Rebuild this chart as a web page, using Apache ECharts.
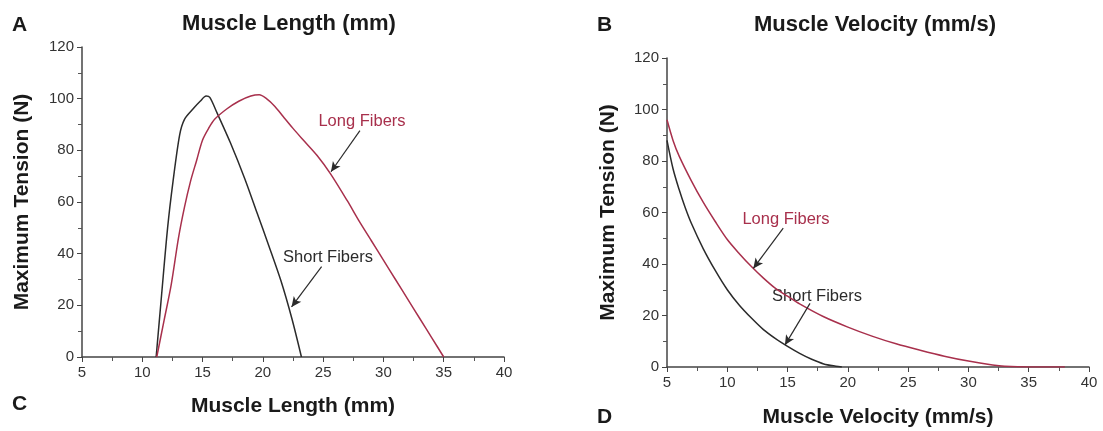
<!DOCTYPE html>
<html>
<head>
<meta charset="utf-8">
<script src="https://cdn.jsdelivr.net/npm/echarts@6/dist/echarts.min.js"></script>
<style>
	html, body { margin: 0; padding: 0; background: #fff; }
	#chart { width: 1103px; height: 431px; }
</style>
</head>
<body>
<div id="chart"></div>
<script>
// panel A/C : tension vs muscle length
let lenShortX = [11.15, 11.6, 12.1, 12.55, 13.1, 13.5, 14.2, 14.8, 15.3, 15.6, 16.2, 17.3, 18.5, 19.5, 20.5, 21.5, 22.4, 23.2];
let lenShortY = [0, 24, 50, 68, 86, 92, 96, 99, 101, 100.5, 94.5, 83, 69, 56, 43, 29.5, 15, 0];
let lenLongX = [11.2, 11.8, 12.4, 13, 13.5, 14, 14.5, 15, 15.5, 16, 17, 18, 19, 19.7, 20.3, 21, 21.7, 22.5, 23.35, 24.5, 25.6, 27, 28, 29, 30, 31, 32, 33, 34, 35];
let lenLongY = [0, 14, 28, 46, 58, 68, 76, 84, 88.5, 92, 96, 99, 101, 101.5, 100, 97, 93, 88.5, 84, 78, 71, 60.5, 52.5, 45, 37.5, 30, 22.5, 15, 7.5, 0];

// panel B/D : tension vs muscle velocity
let velShortX = [5, 5.5, 6, 6.5, 7, 8, 9, 10, 11, 12, 13, 14, 15, 16, 17, 18, 19, 19.5];
let velShortY = [88, 77, 69, 62, 56, 46, 37.5, 30, 24, 19, 14.5, 11, 8, 5.3, 3, 1.2, 0.3, 0];
let velLongX = [5, 5.5, 6, 7, 8, 9, 10, 11, 12, 13, 14, 15, 16, 18, 20, 22, 24, 26, 28, 30, 32, 33, 35, 38];
let velLongY = [96, 88, 82, 72.5, 64, 56.5, 49.5, 44, 39, 34.5, 30.5, 27.5, 24.5, 19.5, 15.5, 12, 9, 6.5, 4.2, 2.3, 0.8, 0.3, 0, 0];

let xTicks = [5, 40, 5];
let yTicks = [0, 120, 20];

let red = '#a8304c';
let dark = '#2b2b2b';
let font = "'Liberation Sans', Arial, sans-serif";

function pairs(xs, ys) {
	return xs.map((x, i) => [x, ys[i]]);
}

function makeX(idx, name, gap) {
	return {
		type: 'value', gridIndex: idx,
		min: xTicks[0], max: xTicks[1], interval: xTicks[2],
		name: name, nameLocation: 'middle', nameGap: gap,
		nameTextStyle: { fontFamily: font, fontWeight: 'bold', fontSize: 21, color: '#1a1a1a' },
		axisLine: { onZero: false, lineStyle: { color: '#444', width: 1.5 } },
		axisTick: { length: 5, lineStyle: { color: '#444' } },
		minorTick: { show: true, splitNumber: 2, length: 4, lineStyle: { color: '#555' } },
		axisLabel: { fontFamily: font, fontSize: 15, color: '#333', margin: 8 },
		splitLine: { show: false }
	};
}

function makeY(idx, gap) {
	return {
		type: 'value', gridIndex: idx,
		min: yTicks[0], max: yTicks[1], interval: yTicks[2],
		name: 'Maximum Tension (N)', nameLocation: 'middle', nameGap: gap, nameRotate: 90,
		nameTextStyle: { fontFamily: font, fontWeight: 'bold', fontSize: 21, color: '#1a1a1a' },
		axisLine: { show: true, lineStyle: { color: '#444', width: 1.5 } },
		axisTick: { show: true, length: 5, lineStyle: { color: '#444' } },
		minorTick: { show: true, splitNumber: 2, length: 4, lineStyle: { color: '#555' } },
		axisLabel: { fontFamily: font, fontSize: 15, color: '#333', margin: 8 },
		splitLine: { show: false }
	};
}

function arrow(from, to) {
	return {
		silent: true, symbol: ['none', 'arrow'], symbolSize: [7, 10],
		label: { show: false },
		lineStyle: { color: dark, width: 1.2, type: 'solid' },
		data: [[{ coord: from }, { coord: to }]]
	};
}

function line(name, data, color, xi, mark) {
	return {
		name: name, type: 'line', xAxisIndex: xi, yAxisIndex: xi,
		data: data, smooth: 0.3, symbol: 'none',
		lineStyle: { color: color, width: 1.5 },
		markLine: mark
	};
}

function label(text, x, y, color, size, bold, align) {
	return {
		type: 'text', x: x, y: y,
		style: {
			text: text, fill: color,
			font: (bold ? 'bold ' : '') + size + 'px ' + font,
			textAlign: align || 'center', textVerticalAlign: 'middle'
		}
	};
}

let myChart = echarts.init(document.getElementById('chart'));
let option = {
	animation: false,
	grid: [
		{ left: 82, top: 47, width: 422, height: 310, outerBoundsMode: 'none', containLabel: false },
		{ left: 667, top: 58, width: 422, height: 309, outerBoundsMode: 'none', containLabel: false }
	],
	xAxis: [makeX(0, 'Muscle Length (mm)', 39), makeX(1, 'Muscle Velocity (mm/s)', 40)],
	yAxis: [makeY(0, 49), makeY(1, 48)],
	series: [
		line('Short Fibers', pairs(lenShortX, lenShortY), dark, 0, arrow([24.87, 35], [22.38, 19.4])),
		line('Long Fibers', pairs(lenLongX, lenLongY), red, 0, arrow([28.05, 87.6], [25.65, 71.7])),
		line('Short Fibers', pairs(velShortX, velShortY), dark, 1, arrow([16.86, 24.7], [14.78, 8.5])),
		line('Long Fibers', pairs(velLongX, velLongY), red, 1, arrow([14.64, 53.9], [12.16, 38.3]))
	],
	graphic: [
		label('A', 12, 25, '#1a1a1a', 21, true, 'left'),
		label('Muscle Length (mm)', 289, 24, '#1a1a1a', 22, true),
		label('B', 597, 25, '#1a1a1a', 21, true, 'left'),
		label('Muscle Velocity (mm/s)', 875, 25, '#1a1a1a', 22, true),
		label('C', 12, 404, '#1a1a1a', 21, true, 'left'),
		label('D', 597, 417, '#1a1a1a', 21, true, 'left'),
		label('Long Fibers', 362, 121, red, 16.5),
		label('Short Fibers', 328, 257, '#2b2b2b', 16.5),
		label('Long Fibers', 786, 219, red, 16.5),
		label('Short Fibers', 817, 296, '#2b2b2b', 16.5)
	]
};
myChart.setOption(option);
window.onresize = myChart.resize;
</script>
</body>
</html>
